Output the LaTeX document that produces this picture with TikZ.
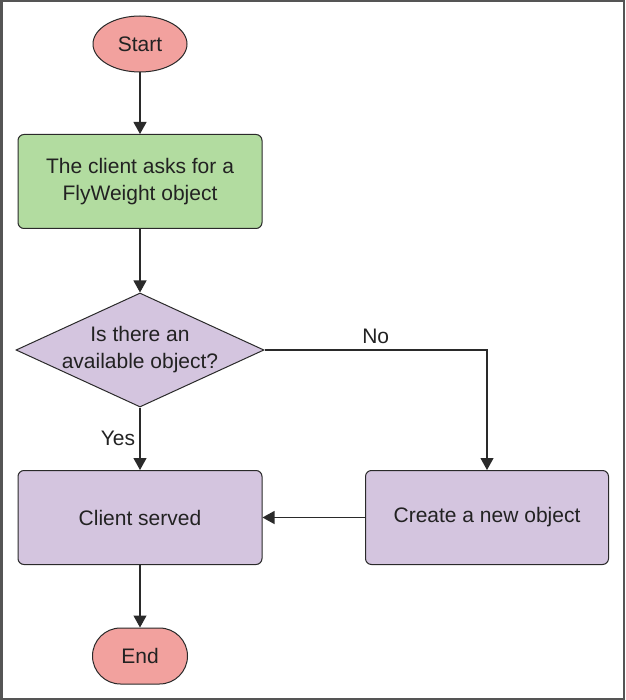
\documentclass[tikz,border=0pt]{standalone}
\usepackage{fontspec}
\setmainfont{Liberation Sans}
\usetikzlibrary{shapes.geometric,arrows.meta}
\definecolor{startpink}{HTML}{F2A19E}
\definecolor{procgreen}{HTML}{B2DCA0}
\definecolor{lav}{HTML}{D4C5DF}
\definecolor{edge}{HTML}{2A2A2A}
\definecolor{txt}{HTML}{222222}
\definecolor{framegray}{HTML}{555555}
\begin{document}
\begin{tikzpicture}[x=1pt,y=-1pt,
  every node/.style={font=\fontsize{21}{27}\selectfont, text=txt},
  term/.style={draw=edge, line width=1pt, fill=startpink, inner sep=0pt},
  procbox/.style={draw=edge, line width=1pt, rounded corners=6pt, inner sep=0pt, minimum width=244pt, minimum height=94pt, align=center},
  decbox/.style={draw=edge, line width=1pt, diamond, fill=lav, inner sep=0pt, minimum width=248pt, minimum height=114pt},
  conn/.style={draw=edge, line width=1.1pt, -{Triangle[width=13pt,length=12pt]}},
  lbl/.style={font=\fontsize{21}{24}\selectfont}
]
\useasboundingbox (0,0) rectangle (625,700);
\fill[white] (0,0) rectangle (625,700);
\draw[framegray, line width=2.5pt] (1.25,1.25) rectangle (623.75,698.75);

\node[term, ellipse, minimum width=94pt, minimum height=56pt] (start) at (140,44) {Start};
\node[procbox, fill=procgreen] (ask) at (140,181.5) {The client asks for a\\FlyWeight object};
\node[decbox] (dec) at (140,350) {};
\node[align=center, inner sep=0pt] (dectext) at (140,350) {Is there an\\available object?};
\node[procbox, fill=lav] (served) at (140,517.5) {Client served};
\node[procbox, fill=lav, minimum width=243pt] (create) at (487,517.5) {Create a new object};
\node[term, rounded corners=28pt, minimum width=95pt, minimum height=56pt] (end) at (140,656) {End};
\coordinate (corner) at (create.north |- dec.east);

\draw[conn] (start) -- (ask);
\draw[conn] (ask) -- (dec);
\draw[conn] (dec) -- node[lbl, left, pos=0.5, xshift=-1pt] (yes) {Yes} (served);
\draw[conn] (dec.east) -- node[lbl, above, pos=0.5, yshift=2pt] (no) {No} (corner) -- (create.north);
\draw[conn] (create.west) -- (served.east);
\draw[conn] (served) -- (end);
\end{tikzpicture}
\end{document}
